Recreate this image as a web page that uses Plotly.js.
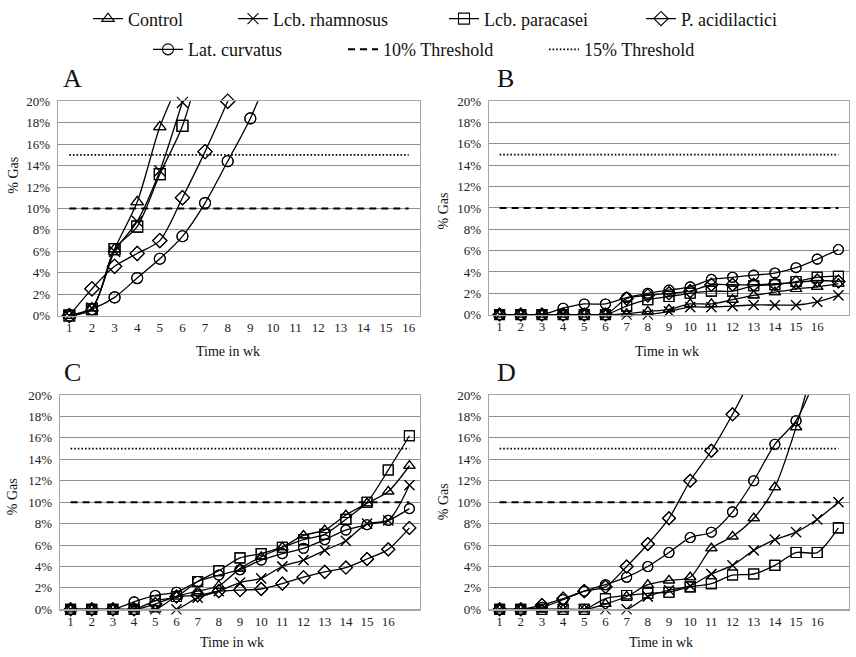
<!DOCTYPE html>
<html>
<head>
<meta charset="utf-8">
<script src="https://cdn.plot.ly/plotly-3.0.1.min.js"></script>
<style>
  html, body { margin: 0; padding: 0; background: #fff; }
  #chart { width: 856px; height: 657px; }
</style>
</head>
<body>
<div id="chart"></div>
<script>
// week numbers
var weeks = [1, 2, 3, 4, 5, 6, 7, 8, 9, 10, 11, 12, 13, 14, 15, 16, 17];
var tickWeeks = [1, 2, 3, 4, 5, 6, 7, 8, 9, 10, 11, 12, 13, 14, 15, 16];
var yTicks = [0, 2, 4, 6, 8, 10, 12, 14, 16, 18, 20];

var seriesNames = ["Control", "Lcb. rhamnosus", "Lcb. paracasei", "P. acidilactici", "Lat. curvatus"];

// panel A (% gas)
var aControl = [0, 0.7, 6.2, 10.6, 17.6, 22.5];
var aRhamnosus = [0, 0.7, 6.0, 8.8, 13.5, 19.9, 26];
var aParacasei = [0, 0.6, 6.2, 8.3, 13.2, 17.7, 25];
var aAcidilactici = [0, 2.5, 4.6, 5.8, 7.0, 11.0, 15.3, 20.0, 25];
var aCurvatus = [0, 0.6, 1.7, 3.5, 5.3, 7.4, 10.5, 14.4, 18.4, 23.5];

// panel B
var bControl = [0, 0, 0, 0, 0, 0, 0.1, 0.3, 0.5, 1.0, 1.0, 1.4, 1.8, 2.1, 2.4, 2.6, 2.9];
var bRhamnosus = [0, 0, 0, 0, 0, 0, 0, 0, 0.3, 0.7, 0.7, 0.8, 0.9, 0.9, 0.9, 1.2, 1.8];
var bParacasei = [0, 0, 0, 0, 0, 0, 0.8, 1.4, 1.7, 2.0, 2.2, 2.2, 2.7, 2.8, 3.1, 3.5, 3.6];
var bAcidilactici = [0, 0, 0, 0, 0, 0, 1.5, 1.8, 2.0, 2.2, 2.8, 2.8, 2.8, 2.9, 3.0, 3.2, 3.1];
var bCurvatus = [0, 0, 0, 0.6, 1.0, 1.0, 1.6, 2.0, 2.3, 2.6, 3.3, 3.5, 3.7, 3.9, 4.4, 5.2, 6.1];

// panel C
var cControl = [0, 0, 0, 0, 0, 1.2, 1.7, 2.2, 3.8, 4.9, 5.8, 6.9, 7.4, 8.8, 9.9, 11.0, 13.4];
var cRhamnosus = [0, 0, 0, 0, 0, 0, 1.1, 1.7, 2.5, 2.9, 4.0, 4.6, 5.5, 6.4, 8.0, 8.3, 11.6];
var cParacasei = [0, 0, 0, 0, 0.8, 1.2, 2.6, 3.6, 4.8, 5.2, 5.8, 6.5, 7.0, 8.4, 10.0, 13.0, 16.2];
var cAcidilactici = [0, 0, 0, 0, 0.5, 1.2, 1.3, 1.7, 1.8, 1.9, 2.4, 3.0, 3.5, 3.9, 4.7, 5.6, 7.6];
var cCurvatus = [0, 0, 0, 0.7, 1.3, 1.6, 2.6, 3.2, 3.7, 4.6, 5.2, 5.7, 6.5, 7.4, 7.9, 8.3, 9.4];

// panel D
var dControl = [0, 0, 0, 0, 0, 0.5, 1.2, 2.3, 2.7, 3.0, 5.7, 6.8, 8.5, 11.4, 17.0, 24];
var dRhamnosus = [0, 0, 0, 0, 0, 0, 0, 1.2, 1.8, 2.2, 3.3, 4.1, 5.5, 6.5, 7.2, 8.4, 10.0];
var dParacasei = [0, 0, 0, 0, 0, 1.0, 1.3, 1.5, 1.6, 2.1, 2.4, 3.2, 3.3, 4.1, 5.3, 5.3, 7.6];
var dAcidilactici = [0, 0, 0.4, 1.0, 1.7, 2.1, 4.0, 6.1, 8.5, 12.0, 14.8, 18.2, 22];
var dCurvatus = [0, 0, 0.2, 0.9, 1.7, 2.3, 3.0, 4.0, 5.3, 6.7, 7.2, 9.1, 12.0, 15.4, 17.6, 22];

var threshold10 = 10;
var threshold15 = 15;
var yMax = 20;

var FONT = "Liberation Serif, Times New Roman, serif";
var symbols = ["triangle-up-open", "x-thin-open", "square-open", "diamond-open", "circle-open"];
var legendIds = ["legend", "legend2", "legend3", "legend4", "legend5"];

var panels = [
  { xa: "x", ya: "y", data: [aControl, aRhamnosus, aParacasei, aAcidilactici, aCurvatus], lastWeek: 16, size: 11 },
  { xa: "x2", ya: "y2", data: [bControl, bRhamnosus, bParacasei, bAcidilactici, bCurvatus], lastWeek: 17, size: 10 },
  { xa: "x3", ya: "y3", data: [cControl, cRhamnosus, cParacasei, cAcidilactici, cCurvatus], lastWeek: 17, size: 10 },
  { xa: "x4", ya: "y4", data: [dControl, dRhamnosus, dParacasei, dAcidilactici, dCurvatus], lastWeek: 17, size: 10 }
];

var traces = [];
panels.forEach(function (p, pi) {
  // threshold lines
  traces.push({
    x: [1, p.lastWeek], y: [threshold10, threshold10],
    xaxis: p.xa, yaxis: p.ya, mode: "lines", name: "10% Threshold",
    line: { color: "black", width: 2, dash: "7px,5px" },
    showlegend: pi === 0, legend: "legend6", hoverinfo: "skip"
  });
  traces.push({
    x: [1, p.lastWeek], y: [threshold15, threshold15],
    xaxis: p.xa, yaxis: p.ya, mode: "lines", name: "15% Threshold",
    line: { color: "black", width: 1.6, dash: "1.6px,2px" },
    showlegend: pi === 0, legend: "legend7", hoverinfo: "skip"
  });
  p.data.forEach(function (vals, si) {
    var xs = weeks.slice(0, vals.length);
    var mk = { symbol: symbols[si], size: p.size, color: "black",
               line: { color: "black", width: 1.1 } };
    // smoothed line (clipped at 20%)
    traces.push({
      x: xs, y: vals, xaxis: p.xa, yaxis: p.ya,
      mode: "lines+markers", name: seriesNames[si],
      line: { color: "black", width: 1.3, shape: "spline", smoothing: 0.8 },
      marker: mk,
      showlegend: pi === 0, legend: legendIds[si]
    });
    // markers on the axis edges drawn whole, points above 20% left out
    traces.push({
      x: xs, y: vals.map(function (v) { return v > yMax ? null : v; }),
      xaxis: p.xa, yaxis: p.ya, mode: "markers", cliponaxis: false,
      marker: mk, showlegend: false, hoverinfo: "skip"
    });
  });
});

function xAxis(domain, anchor, lastWeek) {
  return {
    domain: domain, anchor: anchor,
    range: [0.5, lastWeek + 0.5],
    tickmode: "array", tickvals: tickWeeks, ticktext: tickWeeks.map(String),
    showgrid: false, zeroline: false,
    showline: true, mirror: true, linecolor: "#a6a6a6", linewidth: 1.2,
    ticks: "", tickfont: { family: FONT, size: 13, color: "#222" }
  };
}
function yAxis(domain, anchor) {
  return {
    domain: domain, anchor: anchor,
    range: [0, yMax], tickmode: "array", tickvals: yTicks,
    ticktext: yTicks.map(function (v) { return v + "%"; }),
    showgrid: true, gridcolor: "#8f8f8f", gridwidth: 1,
    zeroline: false, showline: true, mirror: true, linecolor: "#a6a6a6", linewidth: 1.2,
    ticks: "", ticklabelstandoff: 4,
    tickfont: { family: FONT, size: 13, color: "#222" }
  };
}

function legendAt(textLeftPx, rowY) {
  return {
    x: (textLeftPx - 42) / 856, y: 1 - rowY / 657,
    xanchor: "left", yanchor: "middle",
    orientation: "h", bgcolor: "rgba(0,0,0,0)", borderwidth: 0,
    itemwidth: 30, font: { family: FONT, size: 18, color: "#111" }
  };
}

function label(text, x, y, size, angle) {
  return {
    text: text, x: x / 856, y: 1 - y / 657, xref: "paper", yref: "paper",
    xanchor: "center", yanchor: "middle",
    showarrow: false, textangle: angle || 0,
    font: { family: FONT, size: size, color: "#111" }
  };
}

var layout = {
  width: 856, height: 657,
  margin: { l: 0, r: 0, t: 0, b: 0 },
  paper_bgcolor: "white", plot_bgcolor: "white",
  font: { family: FONT },
  xaxis: xAxis([58 / 856, 420 / 856], "y", 16),
  yaxis: yAxis([1 - 313 / 657, 1 - 97 / 657], "x"),
  xaxis2: xAxis([489 / 856, 849 / 856], "y2", 17),
  yaxis2: yAxis([1 - 312 / 657, 1 - 97 / 657], "x2"),
  xaxis3: xAxis([60 / 856, 420 / 856], "y3", 17),
  yaxis3: yAxis([1 - 609 / 657, 1 - 393 / 657], "x3"),
  xaxis4: xAxis([489 / 856, 849 / 856], "y4", 17),
  yaxis4: yAxis([1 - 609 / 657, 1 - 393 / 657], "x4"),
  legend: legendAt(130, 14),
  legend2: legendAt(275, 14),
  legend3: legendAt(486, 14),
  legend4: legendAt(683, 14),
  legend5: legendAt(190, 45),
  legend6: legendAt(385, 45),
  legend7: legendAt(586, 45),
  annotations: [
    label("A", 72, 74, 26), label("B", 505, 74, 26),
    label("C", 72, 370, 26), label("D", 506, 370, 26),
    label("% Gas", 14, 171, 14, -90), label("% Gas", 443, 208, 14, -90),
    label("% Gas", 12, 496, 14, -90), label("% Gas", 443, 501, 14, -90),
    label("Time in wk", 228, 349, 14), label("Time in wk", 667, 349, 14),
    label("Time in wk", 232, 642, 14), label("Time in wk", 661, 642, 14)
  ]
};

Plotly.newPlot("chart", traces, layout, { displayModeBar: false, staticPlot: true });
</script>
</body>
</html>
